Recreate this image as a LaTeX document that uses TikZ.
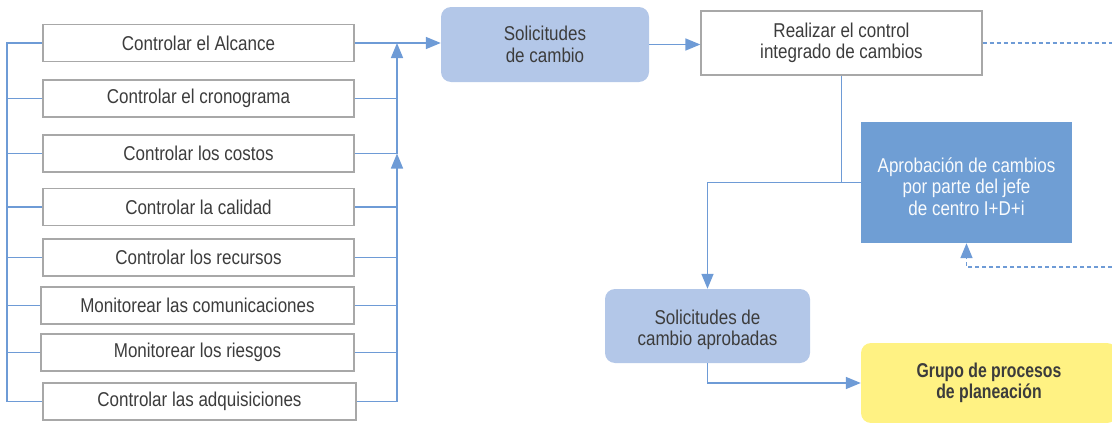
\documentclass[tikz,border=0pt]{standalone}
\usepackage{fontspec}
\setmainfont[FakeStretch=0.85]{Liberation Sans}
\newfontfamily\grpfont[FakeStretch=0.79]{Liberation Sans}
\usetikzlibrary{arrows.meta}
\definecolor{lblue}{HTML}{B3C7E8}
\definecolor{mblue}{HTML}{6F9ED4}
\definecolor{cblue}{HTML}{6E9BD6}
\definecolor{yel}{HTML}{FFF283}
\definecolor{boxgray}{HTML}{A8A8A8}
\definecolor{txt}{HTML}{3C3C3C}
\tikzset{
  box/.style={draw=boxgray, line width=1.2pt, fill=white, minimum height=37pt, inner sep=0pt, text=txt, align=center},
  lbox/.style={box, minimum width=311pt},
  rbox/.style={fill=lblue, rounded corners=10pt, inner sep=0pt, text=txt, align=center},
  conn/.style={draw=cblue, line width=1.6pt},
  arr/.style={conn, -{Triangle[length=15pt,width=12pt]}},
  dsh/.style={conn, dash pattern=on 4pt off 3pt},
}
\begin{document}
\begin{tikzpicture}[x=1pt,y=-1pt, font=\fontsize{20}{21.5}\selectfont]
\useasboundingbox (0,0) rectangle (1112,423);
% left column
\node[lbox] (b1) at (198.5,43) {Controlar el Alcance};
\node[lbox] (b2) at (198.5,98.5) {Controlar el cronograma};
\node[lbox] (b3) at (198.5,153.5) {Controlar los costos};
\node[lbox] (b4) at (198.5,207) {Controlar la calidad};
\node[lbox] (b5) at (198.5,257.5) {Controlar los recursos};
\node[box, minimum width=313pt] (b6) at (197.5,305.5) {Monitorear las comunicaciones};
\node[box, minimum width=313pt] (b7) at (197.5,352.5) {Monitorear los riesgos};
\node[box, minimum width=313pt] (b8) at (199.5,401.5) {Controlar las adquisiciones};
\coordinate (xL) at (7,0);
\coordinate (xR) at (397,0);
\coordinate (edgeR) at (1112,0);
\coordinate (dR) at (1112,267);
% right part
\node[rbox, minimum width=208pt, minimum height=75pt] (sol) at (545,44.5) {Solicitudes\\de cambio};
\node[box, minimum width=281pt, minimum height=64pt] (real) at (841.5,43) {Realizar el control\\integrado de cambios};
\node[fill=mblue, minimum width=211pt, minimum height=121pt, inner sep=0pt,
  label={[text=white!96!mblue, align=center, yshift=-4pt]center:Aprobación de cambios\\por parte del jefe\\de centro I+D+i}] (apr) at (966.5,182.5) {};
\node[fill=lblue, rounded corners=10pt, minimum width=205pt, minimum height=74pt, inner sep=0pt,
  label={[text=txt, align=center, yshift=-4pt]center:Solicitudes de\\cambio aprobadas}] (solap) at (707.5,326) {};
\node[fill=yel, rounded corners=10pt, minimum width=256pt, minimum height=80pt, inner sep=0pt, text=txt, align=center, font=\grpfont\fontsize{20}{21.5}\selectfont\bfseries] (grp) at (989,383) {Grupo de procesos\\de planeación};
% connectors left
\draw[conn] (b1.west) -- (b1.west -| xL) -- (b8.west -| xL) -- (b8.west);
\foreach \i in {2,...,7} \draw[conn] (b\i.west) -- (b\i.west -| xL);
\foreach \i in {2,...,7} \draw[conn] (b\i.east) -- (b\i.east -| xR);
\draw[arr] (b8.east) -- (b8.east -| xR) -- (b3.east -| xR);
\draw[arr] (b3.east -| xR) -- (b1.east -| xR);
\draw[arr] (b1.east) -- (b1.east -| sol.west);
% connectors right
\draw[arr] (sol.east) -- (sol.east -| real.west);
\draw[dsh] (real.east) -- (real.east -| edgeR);
\draw[conn] (real.south) -- (real.south |- apr.west);
\draw[arr] (apr.west) -| (solap.north);
\draw[arr] (solap.south) |- (grp.west);
\draw[dsh, -{Triangle[length=15pt,width=12pt]}] (dR) -| (apr.south);
\end{tikzpicture}
\end{document}
